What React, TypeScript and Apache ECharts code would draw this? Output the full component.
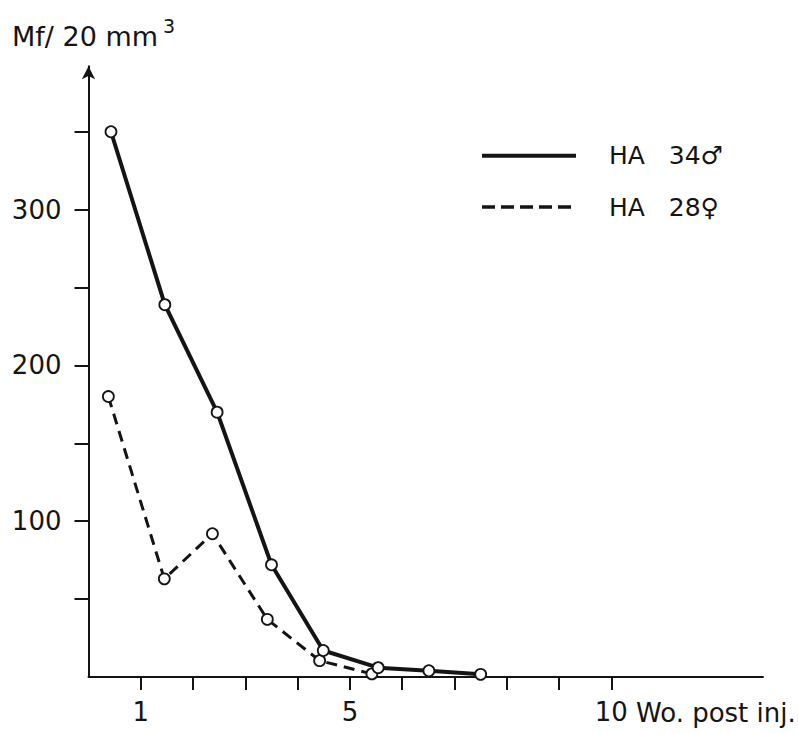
import React, { useEffect, useRef } from 'react';
import * as echarts from 'echarts';

// HA 34 ♂ (solid)
const maleWeeks = [0.43, 1.46, 2.46, 3.5, 4.49, 5.54, 6.51, 7.5];
const maleCounts = [350, 239, 170, 72, 17, 6, 4, 1.7];
// HA 28 ♀ (dashed)
const femaleWeeks = [0.38, 1.45, 2.37, 3.42, 4.42, 5.42];
const femaleCounts = [180, 63, 92, 37, 10.5, 2];

const xTicks = [1, 2, 3, 4, 5, 6, 7, 8, 9, 10];
const xLabels = [1, 5, 10];
const yTicks = [50, 100, 150, 200, 250, 300, 350];
const yLabels = [100, 200, 300];

const maleName = 'HA   34♂';
const femaleName = 'HA   28♀';

const INK = '#141414';
const FONT = '"DejaVu Sans", sans-serif';

const App: React.FC = () => {
  const chartRef = useRef<HTMLDivElement>(null);

  useEffect(() => {
    if (!chartRef.current) return;
    const chart = echarts.init(chartRef.current, null, { renderer: 'svg' });

    const pts = (xs: number[], ys: number[]) => xs.map((x, i) => [x, ys[i]]);

    chart.setOption({
      animation: false,
      backgroundColor: '#fff',
      textStyle: { fontFamily: FONT, color: INK },
      grid: { left: 88.5, top: 66.3, width: 674.5, height: 610.7, containLabel: false },
      legend: {
        orient: 'vertical',
        left: 480,
        top: 141.7,
        padding: 0,
        itemWidth: 94,
        itemHeight: 16,
        itemGap: 23.3,
        selectedMode: false,
        itemStyle: { opacity: 0 },
        textStyle: { fontFamily: FONT, fontSize: 25, color: INK, lineHeight: 28, padding: [0, 0, 0, 28] },
        data: [
          { name: maleName, lineStyle: { width: 4, type: 'solid' } },
          { name: femaleName, lineStyle: { width: 3.5, type: [13, 6] } }
        ]
      },
      xAxis: {
        type: 'value',
        min: 0,
        max: 12.9,
        splitLine: { show: false },
        axisLine: { lineStyle: { color: INK, width: 2 } },
        axisTick: { customValues: xTicks, length: 13, lineStyle: { color: INK, width: 2 } },
        axisLabel: { customValues: xLabels, margin: 22, fontSize: 26, color: INK, fontFamily: FONT }
      },
      yAxis: {
        type: 'value',
        min: 0,
        max: 392,
        splitLine: { show: false },
        axisLine: {
          show: true,
          symbol: ['none', 'arrow'],
          symbolSize: [10, 13],
          lineStyle: { color: INK, width: 2 }
        },
        axisTick: { show: true, customValues: yTicks, length: 14, lineStyle: { color: INK, width: 2 } },
        axisLabel: { customValues: yLabels, margin: 27, fontSize: 26, color: INK, fontFamily: FONT }
      },
      series: [
        {
          name: maleName,
          type: 'line',
          data: pts(maleWeeks, maleCounts),
          symbol: 'circle',
          symbolSize: 11,
          itemStyle: { color: '#fff', borderColor: INK, borderWidth: 1.8 },
          lineStyle: { color: INK, width: 4 },
          z: 3
        },
        {
          name: femaleName,
          type: 'line',
          data: pts(femaleWeeks, femaleCounts),
          symbol: 'circle',
          symbolSize: 11,
          itemStyle: { color: '#fff', borderColor: INK, borderWidth: 1.8 },
          lineStyle: { color: INK, width: 3, type: [11, 7] },
          z: 2
        }
      ],
      graphic: [
        {
          type: 'text',
          left: 12,
          top: 23,
          style: { text: 'Mf/ 20 mm', fontFamily: FONT, fontSize: 27, fill: INK }
        },
        {
          type: 'text',
          left: 163,
          top: 16,
          style: { text: '3', fontFamily: FONT, fontSize: 19, fill: INK }
        },
        {
          type: 'text',
          left: 636,
          top: 700,
          style: { text: 'Wo. post inj.', fontFamily: FONT, fontSize: 26, fill: INK }
        }
      ]
    });

    return () => {
      chart.dispose();
    };
  }, []);

  return (
    <div
      ref={chartRef}
      style={{ position: 'fixed', left: 0, top: 0, width: 798, height: 734, background: '#fff' }}
    />
  );
};

export default App;
